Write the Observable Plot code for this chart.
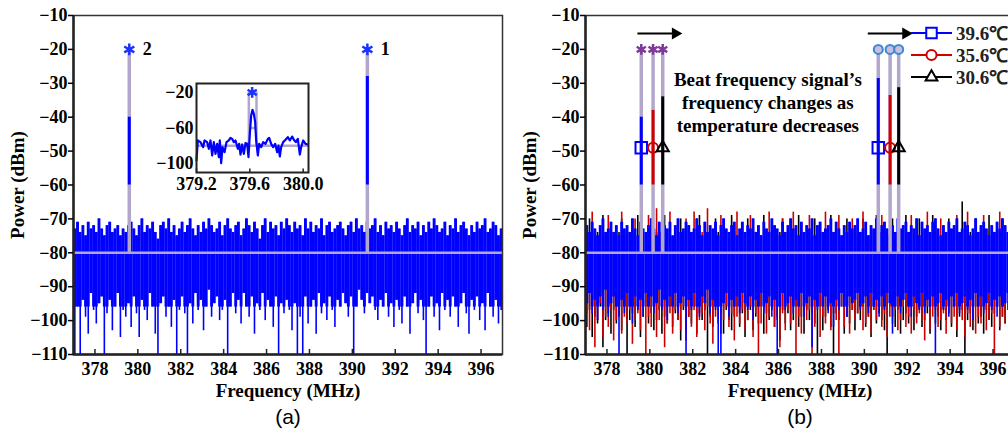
<!DOCTYPE html>
<html><head><meta charset="utf-8">
<script src="https://cdn.jsdelivr.net/npm/d3@7"></script>
<script src="https://cdn.jsdelivr.net/npm/@observablehq/plot@0.6"></script>
<style>
html,body{margin:0;padding:0;background:#fff;}
#wrap{position:relative;width:1008px;height:435px;overflow:hidden;background:#fff;}
.panel{position:absolute;top:0;}
</style></head><body><div id="wrap"></div>
<script>
// ---------- axes ----------
const xDomain = [377, 397];
const yDomain = [-110, -10];
const xTicks = [378, 380, 382, 384, 386, 388, 390, 392, 394, 396];
const yTicks = [-110, -100, -90, -80, -70, -60, -50, -40, -30, -20, -10];
const binStart = 377, binWidth = 0.125;   // noise samples: one value per 0.125 MHz bin
const starLevel = -20, floorLevel = -80, markerLevel = -49, segBottom = -60, coreLevel = -96;

// ---------- panel (a) noise: top and bottom envelope per bin ----------
const noiseATop = [
-73,-71,-74,-72,-75,-71,-73,-72,-74,-70,-73,-75,-72,-71,-74,-73,-72,-75,-73,-74,
-72,-71,-73,-75,-72,-70,-74,-72,-73,-71,-74,-76,-72,-71,-73,-70,-74,-72,-75,-73,
-71,-74,-72,-70,-73,-75,-72,-74,-71,-73,-70,-72,-74,-73,-71,-75,-72,-70,-73,-74,
-72,-71,-75,-73,-70,-72,-74,-71,-73,-76,-72,-70,-74,-71,-73,-72,-75,-71,-73,-70,
-72,-74,-71,-73,-72,-75,-70,-73,-71,-74,-72,-73,-70,-75,-72,-71,-74,-73,-72,-71,
-73,-75,-72,-71,-74,-70,-73,-72,-74,-71,-73,-72,-70,-74,-72,-75,-71,-73,-72,-74,
-71,-73,-75,-72,-70,-74,-72,-73,-71,-75,-72,-74,-71,-73,-70,-72,-74,-73,-71,-75,
-72,-73,-70,-74,-72,-71,-73,-75,-72,-74,-71,-73,-72,-70,-74,-73,-71,-72,-75,-73];
const noiseABot = [
-110,-96,-110,-94,-99,-104,-92,-97,-101,-95,-93,-110,-98,-94,-103,-96,-92,-105,-97,-99,
-95,-102,-93,-98,-105,-94,-97,-100,-92,-96,-104,-110,-95,-93,-99,-96,-102,-94,-110,-97,
-93,-98,-110,-95,-101,-92,-97,-94,-103,-96,-91,-99,-95,-93,-100,-97,-94,-110,-96,-92,
-98,-94,-101,-92,-96,-99,-93,-104,-95,-97,-92,-100,-94,-96,-102,-93,-110,-95,-98,-94,
-97,-103,-95,-110,-99,-110,-93,-101,-96,-94,-104,-92,-98,-95,-100,-93,-97,-102,-94,-96,
-92,-95,-99,-93,-110,-96,-91,-94,-98,-92,-95,-93,-97,-100,-94,-96,-92,-99,-95,-102,
-94,-97,-101,-93,-96,-104,-95,-92,-98,-94,-100,-110,-96,-93,-99,-95,-103,-92,-97,-94,
-99,-93,-96,-102,-95,-92,-98,-104,-94,-97,-93,-100,-95,-103,-92,-96,-99,-94,-101,-97];

// ---------- panel (b) noise, three temperatures ----------
const noiseBlueTop = [
-72,-74,-71,-73,-75,-72,-70,-74,-73,-71,-74,-72,-75,-71,-73,-72,-74,-70,-73,-75,
-71,-73,-74,-72,-70,-73,-75,-71,-74,-72,-73,-71,-75,-72,-70,-74,-73,-71,-72,-74,
-73,-70,-72,-75,-71,-74,-72,-73,-71,-75,-72,-70,-73,-74,-72,-71,-75,-73,-71,-74,
-72,-73,-70,-74,-72,-75,-71,-73,-74,-70,-72,-73,-75,-71,-74,-72,-70,-73,-72,-75,
-71,-74,-72,-73,-70,-75,-72,-71,-74,-73,-72,-70,-74,-71,-73,-75,-72,-74,-71,-73,
-72,-70,-74,-73,-71,-75,-72,-73,-70,-74,-72,-71,-73,-75,-72,-74,-70,-73,-72,-71,
-74,-72,-73,-70,-75,-71,-73,-72,-74,-71,-70,-73,-75,-72,-74,-71,-73,-72,-70,-74,
-73,-71,-72,-75,-73,-70,-74,-72,-71,-73,-75,-72,-74,-71,-73,-70,-72,-74,-73,-71];
const noiseBlueBot = [
-95,-92,-98,-94,-100,-93,-97,-91,-99,-95,-93,-96,-110,-94,-98,-92,-96,-101,-93,-97,
-94,-99,-92,-96,-93,-98,-95,-91,-97,-94,-100,-93,-96,-92,-98,-95,-93,-110,-94,-97,
-92,-96,-99,-93,-95,-91,-98,-94,-97,-110,-110,-95,-92,-99,-94,-96,-93,-98,-92,-95,
-97,-93,-100,-94,-96,-92,-98,-95,-93,-99,-94,-110,-96,-92,-97,-95,-93,-98,-94,-96,
-92,-99,-95,-93,-108,-94,-97,-92,-96,-93,-98,-95,-102,-94,-97,-92,-96,-99,-93,-95,
-94,-92,-97,-95,-93,-98,-92,-96,-94,-99,-93,-97,-92,-95,-104,-96,-93,-98,-94,-92,
-96,-99,-93,-95,-97,-92,-98,-94,-96,-93,-110,-95,-92,-97,-94,-99,-93,-96,-92,-98,
-95,-93,-97,-94,-100,-92,-96,-93,-98,-95,-92,-97,-94,-99,-93,-96,-95,-92,-98,-94];
const noiseRedTop = [
-75,-74,-68,-76,-75,-74,-77,-75,-69,-76,-74,-75,-77,-68,-75,-76,-74,-75,-70,-76,
-74,-76,-75,-69,-77,-74,-67,-75,-76,-74,-75,-68,-76,-77,-74,-75,-76,-70,-74,-75,
-68,-75,-76,-74,-77,-67,-75,-74,-76,-75,-69,-74,-76,-75,-77,-74,-68,-75,-76,-74,
-75,-69,-76,-74,-75,-77,-74,-76,-68,-75,-74,-76,-75,-70,-77,-74,-75,-68,-76,-75,
-74,-76,-75,-69,-74,-77,-75,-76,-74,-68,-75,-74,-77,-76,-69,-75,-74,-76,-75,-70,
-76,-75,-74,-68,-76,-77,-75,-74,-76,-75,-69,-74,-75,-77,-76,-74,-68,-75,-76,-74,
-75,-69,-76,-74,-75,-77,-74,-68,-76,-75,-74,-76,-70,-75,-77,-74,-75,-76,-69,-75,
-74,-76,-68,-75,-77,-74,-76,-75,-69,-74,-75,-77,-76,-74,-68,-75,-76,-74,-75,-70];
const noiseRedBot = [
-98,-103,-96,-108,-100,-95,-105,-99,-102,-97,-106,-100,-96,-104,-99,-101,-97,-107,-100,-98,
-103,-96,-110,-99,-102,-97,-105,-100,-96,-108,-101,-98,-104,-97,-100,-103,-96,-106,-99,-102,
-97,-105,-100,-98,-103,-96,-101,-107,-99,-97,-104,-100,-96,-102,-98,-106,-99,-101,-97,-103,
-100,-96,-105,-98,-110,-101,-97,-104,-99,-96,-102,-100,-108,-98,-103,-97,-101,-96,-110,-99,
-104,-98,-100,-97,-110,-102,-96,-105,-99,-101,-97,-103,-98,-100,-110,-96,-102,-99,-104,-97,
-100,-98,-96,-103,-101,-99,-104,-97,-100,-96,-102,-98,-105,-99,-101,-97,-103,-100,-96,-102,
-99,-104,-97,-101,-98,-100,-106,-96,-103,-99,-97,-102,-100,-98,-104,-96,-101,-99,-103,-97,
-100,-105,-98,-102,-96,-104,-99,-101,-97,-103,-100,-98,-110,-96,-102,-99,-101,-97,-104,-100];
const noiseBlackTop = [
-76,-70,-75,-77,-74,-76,-69,-75,-74,-77,-75,-76,-74,-70,-75,-77,-76,-74,-75,-69,
-75,-77,-74,-76,-70,-75,-74,-77,-76,-69,-75,-74,-76,-77,-74,-70,-75,-76,-74,-77,
-74,-76,-69,-75,-77,-74,-76,-75,-70,-74,-77,-75,-76,-74,-69,-75,-76,-77,-74,-75,
-70,-75,-76,-74,-77,-75,-69,-76,-74,-75,-77,-76,-74,-70,-75,-76,-74,-77,-75,-69,
-75,-77,-74,-76,-75,-70,-74,-76,-77,-75,-74,-69,-76,-75,-74,-77,-75,-70,-76,-74,
-77,-75,-74,-70,-76,-75,-77,-74,-69,-76,-75,-74,-77,-75,-70,-76,-74,-75,-77,-69,
-74,-76,-75,-77,-70,-74,-76,-75,-74,-69,-77,-75,-76,-74,-75,-70,-76,-77,-74,-75,
-65,-75,-76,-74,-77,-70,-75,-74,-76,-75,-69,-77,-74,-76,-75,-70,-74,-77,-75,-76];
const noiseBlackBot = [
-102,-97,-105,-99,-101,-96,-108,-100,-98,-104,-97,-101,-99,-103,-96,-110,-100,-98,-102,-97,
-105,-99,-96,-101,-98,-103,-100,-97,-104,-99,-101,-96,-102,-98,-100,-106,-97,-103,-99,-101,
-96,-104,-98,-100,-97,-110,-99,-102,-96,-101,-98,-104,-97,-100,-103,-99,-96,-102,-98,-105,
-100,-97,-103,-99,-101,-96,-104,-98,-100,-97,-102,-99,-106,-97,-101,-98,-103,-100,-96,-102,
-99,-104,-97,-100,-98,-101,-110,-96,-103,-99,-97,-102,-110,-98,-100,-96,-104,-99,-101,-97,
-103,-98,-100,-96,-102,-99,-105,-97,-101,-98,-100,-103,-110,-96,-99,-102,-97,-104,-100,-98,
-101,-96,-103,-99,-97,-102,-100,-98,-104,-96,-101,-99,-103,-97,-100,-98,-102,-96,-105,-99,
-97,-110,-100,-98,-103,-96,-101,-99,-104,-97,-100,-102,-98,-96,-103,-99,-101,-97,-105,-100];

// ---------- peaks ----------
const peakAFreq = [379.6, 390.7];
const peakATop = [-40, -28];
const peakALabel = ["2", "1"];

const tempLabels = ["39.6℃", "35.6℃", "30.6℃"];
const tempColors = ["#0000ff", "#d00000", "#000000"];
const tempSymbols = ["square", "circle", "triangle"];
const peakG1Freq = [379.6, 380.15, 380.6];
const peakG2Freq = [390.65, 391.2, 391.6];
const peakG1Top = [-40, -38, -34];
const peakG2Top = [-28.6, -33.6, -31.3];

const arrowX1 = [379.42, 390.16];
const arrowX2 = [381.19, 391.93];
const arrowY = -15.3;
const annotText = "Beat frequency signal’s\nfrequency changes as\ntemperature decreases";
const annotX = 385.5, annotY = -35.4;

// ---------- inset (a) ----------
const insetXDomain = [379.2, 380.04];
const insetXTicks = [379.2, 379.6, 380.0];
const insetYTicks = [-20, -60, -100];
const insetFreq = [379.200,379.210,379.230,379.250,379.260,379.280,379.2925,379.305,379.3175,379.330,
 379.3425,379.355,379.3675,379.375,379.385,379.395,379.41,379.425,379.4425,379.455,
 379.4675,379.48,379.4925,379.51,379.52,379.53,379.5425,379.555,379.5675,379.58,
 379.59,379.60,379.61,379.62,379.63,379.64,379.6475,379.66,379.67,379.685,
 379.70,379.7175,379.735,379.745,379.76,379.775,379.79,379.805,379.815,379.825,
 379.835,379.85,379.8675,379.885,379.90,379.9175,379.93,379.945,379.96,379.975,
 379.985,380.00,380.0175,380.035];
const insetPower = [-96.5,-74.0,-75.9,-81.5,-74.0,-75.9,-83.4,-74.0,-90.9,-75.9,
 -89.0,-77.8,-92.8,-74.0,-99.5,-81.5,-87.2,-75.9,-74.0,-71.1,
 -72.2,-75.9,-74.0,-83.4,-77.8,-89.8,-78.5,-89.0,-77.0,-77.8,
 -92.8,-66.5,-46.0,-39.6,-44.1,-53.4,-74.0,-90.9,-77.8,-81.5,
 -75.9,-77.8,-72.2,-71.1,-77.8,-81.5,-77.8,-87.2,-79.7,-92.0,
 -81.5,-75.9,-73.3,-70.3,-74.0,-69.6,-73.3,-75.9,-72.2,-89.8,
 -81.5,-74.0,-77.8,-78.5];
const insetStemFreq = [379.5925, 379.65];
const insetStarFreq = 379.6175;

// ---------- helpers ----------
const lav = "#b2a6cc";
const fmt = d => d < 0 ? "\u2212" + Math.abs(d) : String(d);
const bins = (top, bot) => top.map((t, i) => ({f: binStart + (i + 0.5) * binWidth, hi: t, lo: bot[i], core: Math.max(bot[i], coreLevel)}));
const baseStyle = {fontFamily: '"Liberation Serif", "Times New Roman", serif', fontSize: "18px", fontWeight: "bold", background: "transparent", overflow: "visible"};

function noiseMarks(top, bot, color, solid) {
  const b = bins(top, bot);
  const m = [Plot.ruleX(b, {x: "f", y1: "lo", y2: "hi", stroke: color, strokeWidth: 1.6})];
  if (solid) m.push(Plot.ruleX(b, {x: "f", y1: "core", y2: "hi", stroke: color, strokeWidth: 2.9}));
  return m;
}
function frameMarks() {
  return [
    Plot.frame({stroke: "#333", strokeWidth: 1.5}),
    Plot.ruleX([xDomain[0]], {stroke: "#222", strokeWidth: 2.5}),
    Plot.ruleY([yDomain[0]], {stroke: "#222", strokeWidth: 2.5}),
    Plot.ruleX(xTicks, {y1: yDomain[0], y2: yDomain[0] + 1.5, stroke: "#222", strokeWidth: 1.5}),
    Plot.axisX({ticks: xTicks, tickSize: 0, tickPadding: 8, tickFormat: d => String(d), label: null}),
    Plot.axisY({ticks: yTicks, tickSize: 5, tickPadding: 1, tickFormat: fmt, label: null, strokeWidth: 1.5}),
    Plot.text(["Power (dBm)"], {frameAnchor: "left", dx: -56, rotate: -90, text: d => d, fontSize: 19, textAnchor: "middle", lineAnchor: "middle"}),
    Plot.text(["Frequency (MHz)"], {frameAnchor: "bottom", dy: 36, text: d => d, fontSize: 19, textAnchor: "middle", lineAnchor: "middle"})
  ];
}
function panelLabel(t) {
  return Plot.text([t], {frameAnchor: "bottom", dy: 63, text: d => d, fontSize: 21, fontWeight: "normal", textAnchor: "middle", lineAnchor: "middle",
    fontFamily: '"Liberation Sans", Arial, sans-serif'});
}
const common = {width: 512, height: 435, marginLeft: 73, marginRight: 10, marginTop: 15, marginBottom: 81,
  x: {domain: xDomain}, y: {domain: yDomain}, style: baseStyle};

const wrap = document.getElementById("wrap");

// ---------- panel (a) ----------
const peaksA = peakAFreq.map((f, i) => ({f, top: peakATop[i], label: peakALabel[i]}));
const plotA = Plot.plot({...common, marks: [
  ...noiseMarks(noiseATop, noiseABot, "#0000ff", true),
  Plot.ruleY([floorLevel], {stroke: lav, strokeWidth: 2.5}),
  Plot.ruleX(peaksA, {x: "f", y1: floorLevel, y2: starLevel, stroke: lav, strokeWidth: 3.5}),
  Plot.ruleX(peaksA, {x: "f", y1: segBottom, y2: "top", stroke: "#0000ff", strokeWidth: 3}),
  Plot.dot(peaksA, {x: "f", y: starLevel, symbol: "asterisk", r: 5.5, stroke: "#1a33ff", strokeWidth: 2.5}),
  Plot.text(peaksA, {x: "f", y: starLevel, text: "label", dx: 18, fontSize: 18}),
  ...frameMarks(),
  panelLabel("(a)")
]});
plotA.classList.add("panel"); plotA.style.left = "0px";
wrap.appendChild(plotA);

// ---------- inset ----------
const insetData = insetFreq.map((f, i) => ({f, p: insetPower[i]}));
const insetStem = [
  {f: insetStemFreq[0], p: floorLevel}, {f: insetStemFreq[0], p: starLevel},
  {f: insetStemFreq[1], p: starLevel}, {f: insetStemFreq[1], p: floorLevel}];
const inset = Plot.plot({
  width: 178, height: 117, marginLeft: 46, marginRight: 20, marginTop: 4, marginBottom: 24,
  x: {domain: insetXDomain}, y: {domain: yDomain}, style: baseStyle,
  marks: [
    Plot.ruleY([floorLevel], {stroke: lav, strokeWidth: 2.5}),
    Plot.line(insetStem, {x: "f", y: "p", stroke: lav, strokeWidth: 2.5}),
    Plot.ruleY([segBottom], {x1: insetStemFreq[0], x2: insetStemFreq[1], stroke: lav, strokeWidth: 2.5}),
    Plot.line(insetData, {x: "f", y: "p", stroke: "#0000ff", strokeWidth: 2.2}),
    Plot.dot([insetStarFreq], {x: d => d, y: starLevel, symbol: "asterisk", r: 5, stroke: "#1a33ff", strokeWidth: 2.5}),
    Plot.frame({stroke: "#222", strokeWidth: 2}),
    Plot.ruleX(insetXTicks, {y1: yDomain[0], y2: yDomain[0] + 4, stroke: "#222", strokeWidth: 1.5}),
    Plot.axisX({ticks: insetXTicks, tickSize: 0, tickPadding: 5, tickFormat: d => d.toFixed(1), label: null}),
    Plot.axisY({ticks: insetYTicks, tickSize: 0, tickPadding: 3, tickFormat: fmt, label: null})
  ]});
inset.style.position = "absolute"; inset.style.left = "150px"; inset.style.top = "79px";
wrap.appendChild(inset);

// ---------- panel (b) ----------
const peaksB = [];
tempLabels.forEach((t, i) => {
  peaksB.push({f: peakG1Freq[i], top: peakG1Top[i], color: tempColors[i], sym: tempSymbols[i], group: 1});
  peaksB.push({f: peakG2Freq[i], top: peakG2Top[i], color: tempColors[i], sym: tempSymbols[i], group: 2});
});
const arrows = arrowX1.map((x1, i) => ({x1, x2: arrowX2[i], y: arrowY}));
const markerMarks = tempSymbols.map((s, i) =>
  Plot.dot(peaksB.filter(d => d.sym === s), {x: "f", y: markerLevel, symbol: s,
    r: s === "square" ? 6.5 : s === "circle" ? 5 : 4.5, stroke: tempColors[i], strokeWidth: 2, fill: "none"}));
const plotB = Plot.plot({...common, marks: [
  ...noiseMarks(noiseBlackTop, noiseBlackBot, "#000", false),
  ...noiseMarks(noiseRedTop, noiseRedBot, "#cc0000", false),
  ...noiseMarks(noiseBlueTop, noiseBlueBot, "#0000ff", true),
  Plot.ruleY([floorLevel], {stroke: lav, strokeWidth: 2.5}),
  Plot.ruleX(peaksB, {x: "f", y1: floorLevel, y2: starLevel, stroke: lav, strokeWidth: 3.5}),
  Plot.ruleX(peaksB, {x: "f", y1: segBottom, y2: "top", stroke: "color", strokeWidth: 3}),
  ...markerMarks,
  Plot.dot(peaksB.filter(d => d.group === 1), {x: "f", y: starLevel, symbol: "asterisk", r: 5, stroke: "#7d3a96", strokeWidth: 2.5}),
  Plot.dot(peaksB.filter(d => d.group === 2), {x: "f", y: starLevel, symbol: "circle", r: 4.5, stroke: "#3a8ad0", strokeWidth: 2, fill: "#c9bde0"}),
  Plot.link(arrows, {x1: "x1", x2: "x2", y1: "y", y2: "y", stroke: "#000", strokeWidth: 2}),
  Plot.dot(arrows, {x: "x2", y: "y", symbol: "triangle", rotate: 90, r: 4.5, fill: "#000", stroke: "none"}),
  Plot.text([annotText], {x: annotX, y: annotY, text: d => d, fontSize: 19, lineHeight: 1.2, textAnchor: "middle"}),
  ...frameMarks(),
  panelLabel("(b)")
]});
plotB.classList.add("panel"); plotB.style.left = "512px";
wrap.appendChild(plotB);

// ---------- legend (b) ----------
const leg = d3.select(wrap).append("svg").attr("width", 1008).attr("height", 435)
  .style("position", "absolute").style("left", "0px").style("top", "0px");
const symTypes = {square: d3.symbolSquare, circle: d3.symbolCircle, triangle: d3.symbolTriangle};
const symSizes = {square: 110, circle: 80, triangle: 60};
tempLabels.forEach((t, i) => {
  const y = 33 + i * 22;
  const g = leg.append("g");
  g.append("line").attr("x1", 911).attr("x2", 952).attr("y1", y).attr("y2", y)
    .attr("stroke", tempColors[i]).attr("stroke-width", 2);
  g.append("path").attr("d", d3.symbol().type(symTypes[tempSymbols[i]]).size(symSizes[tempSymbols[i]])())
    .attr("transform", `translate(931.5,${y})`).attr("fill", "#fff").attr("stroke", tempColors[i]).attr("stroke-width", 2);
  g.append("text").attr("x", 956).attr("y", y).attr("dy", "0.35em").text(t)
    .attr("font-family", '"Liberation Serif", serif').attr("font-size", 19).attr("font-weight", "bold").attr("fill", "#222");
});
</script></body></html>
